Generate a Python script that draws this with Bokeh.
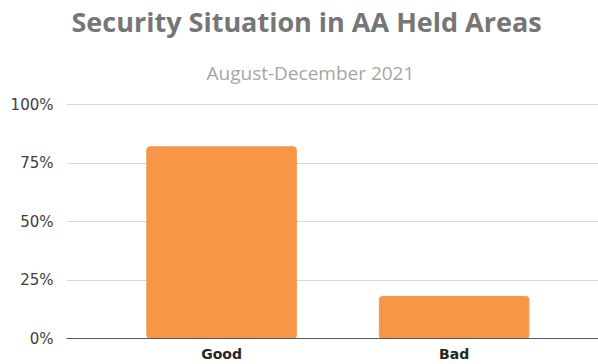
from bokeh.plotting import figure
from bokeh.models import Range1d, FixedTicker, Title, NumeralTickFormatter, ColumnDataSource
from bokeh.embed import file_html
from bokeh.resources import INLINE

categories = ["Good", "Bad"]
shares = [0.82, 0.18]
y_ticks = [0, 0.25, 0.5, 0.75, 1.0]

xs = list(range(1, len(categories) + 1))
src = ColumnDataSource(dict(x=xs, top=shares, cat=categories))

p = figure(width=598, height=364, output_backend="svg", toolbar_location=None,
           x_range=Range1d(0.333, 2.621), y_range=Range1d(0, 1.005),
           min_border_left=66, min_border_right=0, min_border_top=103, min_border_bottom=0)

p.vbar(x="x", top="top", width=0.643, source=src, color="#F79646", border_radius=3)

p.add_layout(Title(text="August-December 2021", align="left", text_font="Open Sans",
                   text_font_size="19px", text_color="#a5a5a5", text_font_style="normal",
                   text_line_height=0.5, offset=140, standoff=36), "above")
p.add_layout(Title(text="Security Situation in AA Held Areas", align="left", text_font="Open Sans",
                   text_font_size="27px", text_color="#767676", text_font_style="bold",
                   text_line_height=1.8, offset=5, standoff=0), "above")

p.outline_line_color = None
p.xgrid.grid_line_color = None
p.ygrid.grid_line_color = "#d9d9d9"
p.ygrid.ticker = FixedTicker(ticks=y_ticks)

p.yaxis.ticker = FixedTicker(ticks=y_ticks)
p.yaxis.formatter = NumeralTickFormatter(format="0%")
p.yaxis.axis_line_color = None
p.yaxis.major_tick_line_color = None
p.yaxis.minor_tick_line_color = None
p.yaxis.major_label_text_font = "DejaVu Sans"
p.yaxis.major_label_text_font_size = "15px"
p.yaxis.major_label_text_color = "#404040"
p.yaxis.major_label_standoff = 7

p.xaxis.ticker = FixedTicker(ticks=xs)
p.xaxis.major_label_overrides = {x: c for x, c in zip(xs, categories)}
p.xaxis.axis_line_color = "#595959"
p.xaxis.axis_line_width = 1
p.xaxis.major_tick_line_color = None
p.xaxis.minor_tick_line_color = None
p.xaxis.major_label_text_font = "DejaVu Sans"
p.xaxis.major_label_text_font_style = "bold"
p.xaxis.major_label_text_font_size = "14px"
p.xaxis.major_label_text_color = "#262626"
p.xaxis.major_label_standoff = 1

open("out.html", "w").write(file_html(p, INLINE))
